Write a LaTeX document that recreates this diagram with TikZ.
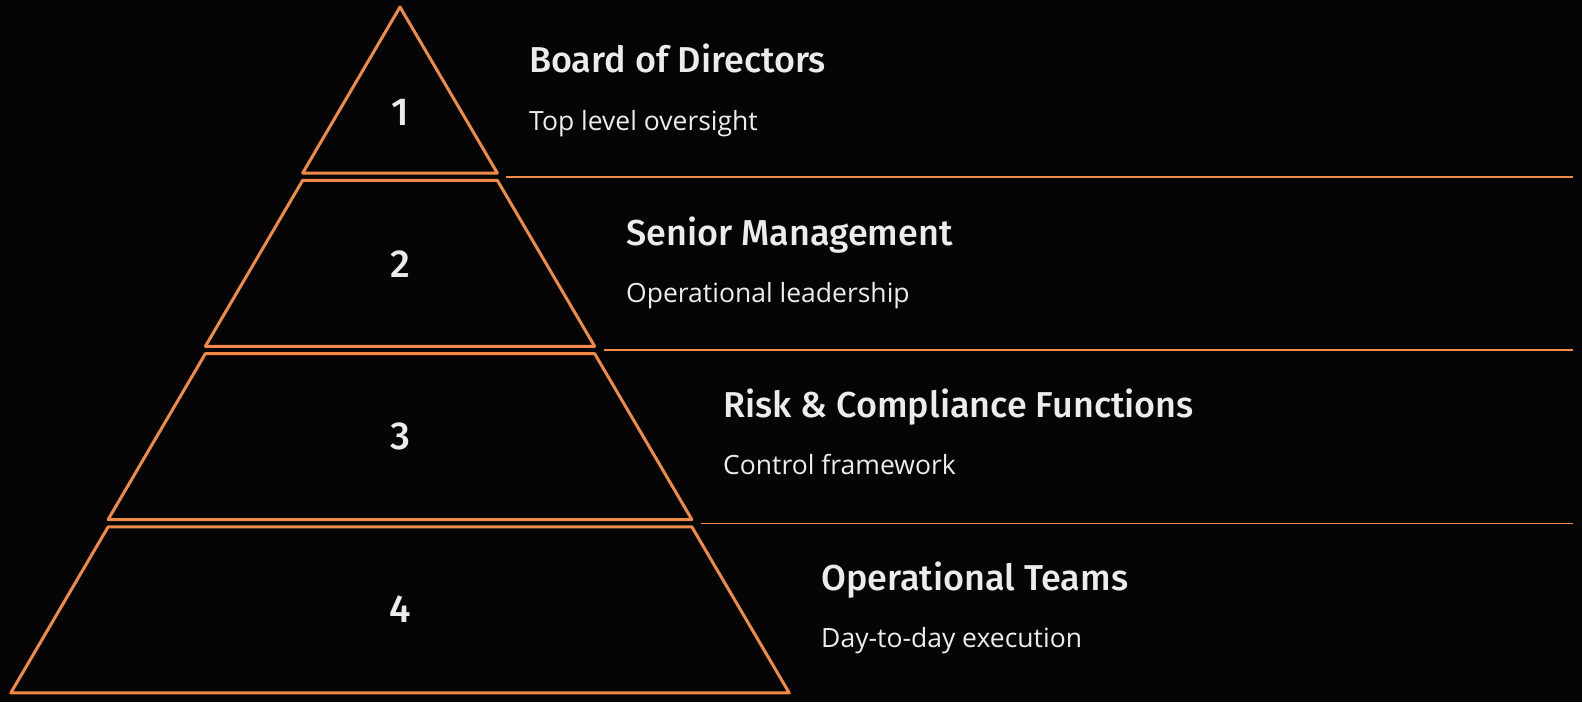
\documentclass[tikz,border=0pt]{standalone}
\usepackage{fontspec}
\setmainfont{Open Sans}
\newfontfamily\titelfont{Fira Sans Medium}
\definecolor{orangelinie}{HTML}{F08A46}
\definecolor{hinter}{HTML}{050505}
\definecolor{schrift}{HTML}{ECECEF}
\tikzset{stufe/.style={draw=orangelinie,line width=3pt,line join=round}}
\tikzset{trenner/.style={draw=orangelinie,line width=1.5pt}}
\tikzset{nummer/.style={text=schrift,inner sep=0pt,font=\titelfont\fontsize{39}{39}\selectfont}}
\tikzset{titel/.style={text=schrift,anchor=base west,inner sep=0pt,font=\titelfont\fontsize{36}{36}\selectfont}}
\tikzset{untertitel/.style={text=schrift,anchor=base west,inner sep=0pt,font=\fontsize{26.5}{26.5}\selectfont}}

\begin{document}
\begin{tikzpicture}[x=1pt,y=-1pt]
	\fill[hinter] (0,0) rectangle (1582,702);
	\useasboundingbox (0,0) rectangle (1582,702);
	
	% Pyramide
	\draw[stufe] (400,7)coordinate(spitze) --(302.7,173)--(497.3,173)coordinate(s1r)--cycle;
	\draw[stufe] (302.7,180.3)--(497.3,180.3)--(594.6,346.3)coordinate(s2r)--(205.4,346.3)--cycle;
	\draw[stufe] (205.4,353.6)--(594.6,353.6)--(691.9,519.6)coordinate(s3r)--(108.1,519.6)--cycle;
	\draw[stufe] (108.1,526.9)--(691.9,526.9)--(789.2,692.9)coordinate(s4r)--(10.8,692.9)--cycle;
	
	% Trennlinien
	\coordinate (r1) at (1573,177);
	\coordinate (r2) at (1573,350);
	\coordinate (r3) at (1573,523.3);
	\draw[trenner] (s1r)++(9,4)coordinate(l1)--(r1);
	\draw[trenner] (s2r)++(9,3.7)coordinate(l2)--(r2);
	\draw[trenner] (s3r)++(9,3.7)coordinate(l3)--(r3);
	
	\node[nummer] (n1) at (400,112) {1};
	\node[nummer] (n2) at (400,264) {2};
	\node[nummer] (n3) at (400,436) {3};
	\node[nummer] (n4) at (400,609) {4};
	
	\node[titel] (t1) at (529,72) {Board of Directors};
	\node[titel] (t2) at (626,245) {Senior Management};
	\node[titel] (t3) at (723,417.5) {Risk \& Compliance Functions};
	\node[titel] (t4) at (821,590) {Operational Teams};
	\path (t1.base west)++(0,58) node[untertitel] (u1) {Top level oversight};
	\path (t2.base west)++(0,57.5) node[untertitel] (u2) {Operational leadership};
	\path (t3.base west)++(0,57) node[untertitel] (u3) {Control framework};
	\path (t4.base west)++(0,57.5) node[untertitel] (u4) {Day-to-day execution};
\end{tikzpicture}
\end{document}
